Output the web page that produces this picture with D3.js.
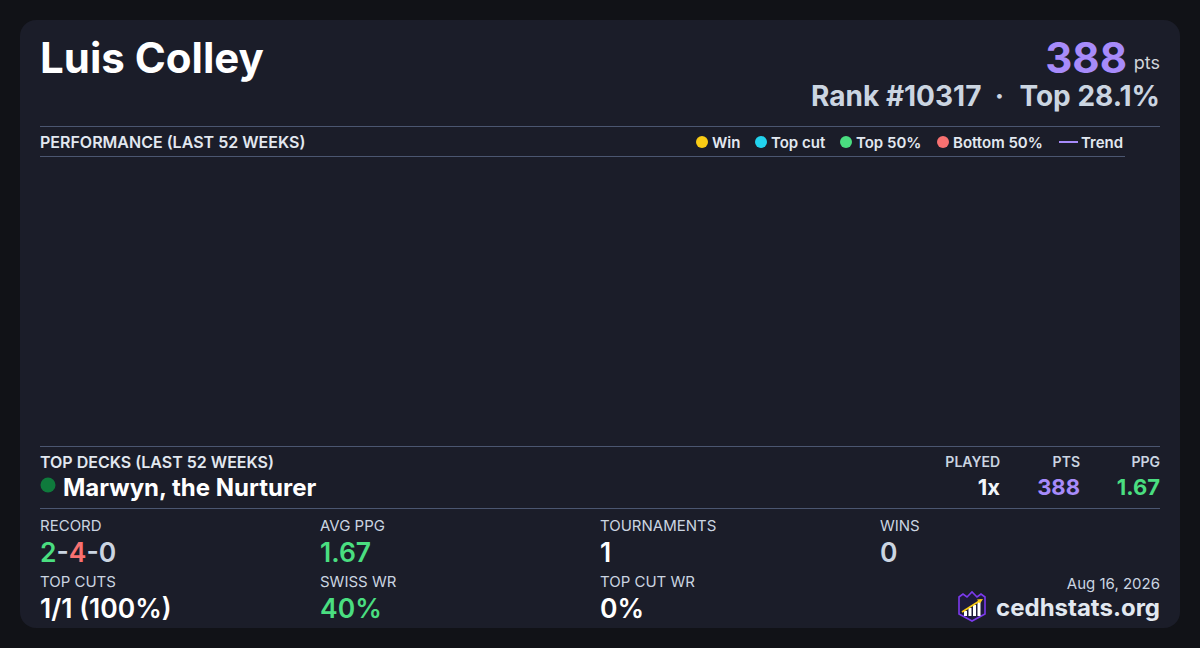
<!DOCTYPE html>
<html>
<head>
<meta charset="utf-8">
<script src="https://cdn.jsdelivr.net/npm/d3@7"></script>
<style>
  html, body { margin: 0; padding: 0; background: #111217; }
  svg { display: block; font-family: Inter, "Noto Sans", sans-serif; }
</style>
</head>
<body>
<div id="card"></div>
<script>
// Player card data
const playerName = 'Luis Colley'
const points = 388
const rankText = 'Rank #10317'
const topText = 'Top 28.1%'
const dateText = 'Aug 16, 2026'

// performance points (none in the last 52 weeks)
const perfWeeks = []
const perfValues = []
const perfResults = []

const legendLabels = ['Win', 'Top cut', 'Top 50%', 'Bottom 50%', 'Trend']
const legendColors = ['#facc15', '#22d3ee', '#4ade80', '#f87171', '#a78bfa']

const deckNames = ['Marwyn, the Nurturer']
const deckPlayed = ['1x']
const deckPts = [388]
const deckPpg = ['1.67']

const statLabels = ['RECORD', 'AVG PPG', 'TOURNAMENTS', 'WINS', 'TOP CUTS', 'SWISS WR', 'TOP CUT WR']
const statValues = ['2-4-0', '1.67', '1', '0', '1/1 (100%)', '40%', '0%']

const W = 1200, H = 648
const svg = d3.select('#card').append('svg')
    .attr('width', W)
    .attr('height', H)

svg.append('rect')
    .attr('x', 20).attr('y', 20)
    .attr('width', 1160).attr('height', 608)
    .attr('rx', 16)
    .attr('fill', '#1b1d29')

const ruleColor = '#4b5670'

// Header
svg.append('text')
    .attr('x', 40).attr('y', 73)
    .attr('font-size', 42).attr('font-weight', 700)
    .attr('fill', '#ffffff')
    .text(playerName)

svg.append('text')
    .attr('x', 1160).attr('y', 69)
    .attr('text-anchor', 'end')
    .attr('font-size', 18)
    .attr('fill', '#d1d5db')
    .text('pts')

svg.append('text')
    .attr('x', 1127).attr('y', 73)
    .attr('text-anchor', 'end')
    .attr('font-size', 42).attr('font-weight', 700)
    .attr('fill', '#a78bfa')
    .text(points)

// rank line: right-aligned pieces with a separating dot
const rankRow = svg.append('g')
    .attr('font-size', 28).attr('font-weight', 700)
    .attr('fill', '#cbd5e1')
const topNode = rankRow.append('text')
    .attr('x', 1160).attr('y', 106)
    .attr('text-anchor', 'end')
    .text(topText)
const topStart = 1160 - topNode.node().getComputedTextLength()
rankRow.append('text')
    .attr('x', topStart - 20).attr('y', 106)
    .attr('text-anchor', 'middle')
    .text('\u00b7')
rankRow.append('text')
    .attr('x', topStart - 38).attr('y', 106)
    .attr('text-anchor', 'end')
    .text(rankText)

function rule(y, x2) {
    svg.append('line')
        .attr('x1', 40).attr('x2', x2)
        .attr('y1', y).attr('y2', y)
        .attr('stroke', ruleColor)
        .attr('stroke-width', 1)
}

// Performance section
rule(126.5, 1160)
rule(156.5, 1125)

svg.append('text')
    .attr('x', 40).attr('y', 148)
    .attr('font-size', 16).attr('font-weight', 600)
    .attr('fill', '#e2e8f0')
    .text('PERFORMANCE (LAST 52 WEEKS)')

// Legend
const legendX = [702, 761, 846, 943, 1059]
const legend = svg.append('g')
legendLabels.forEach((label, i) => {
    const g = legend.append('g').attr('transform', `translate(${legendX[i]}, 142)`)
    if (label === 'Trend') {
        g.append('line')
            .attr('x1', 0).attr('x2', 19)
            .attr('stroke', legendColors[i]).attr('stroke-width', 2)
        g.append('text').attr('x', 22).attr('y', 5.5)
            .attr('font-size', 15).attr('font-weight', 600)
            .attr('fill', '#e2e8f0').text(label)
    } else {
        g.append('circle').attr('r', 6).attr('fill', legendColors[i])
        g.append('text').attr('x', 10).attr('y', 5.5)
            .attr('font-size', 15).attr('font-weight', 600)
            .attr('fill', '#e2e8f0').text(label)
    }
})

// Chart area (empty)
const x = d3.scaleLinear().domain([0, 52]).range([40, 1125])
const y = d3.scaleLinear().domain([0, 400]).range([436, 166])
const colorOf = d3.scaleOrdinal().domain(legendLabels.slice(0, 4)).range(legendColors.slice(0, 4))

const perf = perfWeeks.map((w, i) => ({ w: w, v: perfValues[i], r: perfResults[i] }))
svg.append('g').selectAll('circle')
    .data(perf)
    .enter()
    .append('circle')
    .attr('cx', d => x(d.w))
    .attr('cy', d => y(d.v))
    .attr('r', 5)
    .attr('fill', d => colorOf(d.r))

if (perf.length > 1) {
    svg.append('path')
        .datum(perf)
        .attr('fill', 'none')
        .attr('stroke', legendColors[4])
        .attr('stroke-width', 2)
        .attr('d', d3.line().x(d => x(d.w)).y(d => y(d.v)))
}

// Top decks
rule(446.5, 1160)
svg.append('text')
    .attr('x', 40).attr('y', 468)
    .attr('font-size', 16).attr('font-weight', 600)
    .attr('fill', '#e2e8f0')
    .text('TOP DECKS (LAST 52 WEEKS)')

const deckCols = [
    { label: 'PLAYED', x: 1000, vals: deckPlayed, color: '#f1f5f9' },
    { label: 'PTS', x: 1080, vals: deckPts, color: '#a78bfa' },
    { label: 'PPG', x: 1160, vals: deckPpg, color: '#4ade80' }
]
deckCols.forEach(c => {
    svg.append('text')
        .attr('x', c.x).attr('y', 467)
        .attr('text-anchor', 'end')
        .attr('font-size', 14).attr('font-weight', 600)
        .attr('fill', '#cbd5e1')
        .text(c.label)
})

deckNames.forEach((name, i) => {
    const cy = 495 + i * 30
    svg.append('circle')
        .attr('cx', 48).attr('cy', cy - 10).attr('r', 7.5)
        .attr('fill', '#0f7a3c')
    svg.append('text')
        .attr('x', 63).attr('y', cy + 1)
        .attr('font-size', 24).attr('font-weight', 700)
        .attr('fill', '#ffffff')
        .text(name)
    deckCols.forEach(c => {
        svg.append('text')
            .attr('x', c.x).attr('y', cy)
            .attr('text-anchor', 'end')
            .attr('font-size', 22).attr('font-weight', 700)
            .attr('fill', c.color)
            .text(c.vals[i])
    })
})

rule(508.5, 1160)

// Stats grid
const colX = [40, 320, 600, 880]
const rowY = [531, 587]
const valueColor = {
    'AVG PPG': '#4ade80',
    'SWISS WR': '#4ade80',
    'WINS': '#cbd5e1'
}
statLabels.forEach((label, i) => {
    const cx = colX[i % 4], ry = rowY[Math.floor(i / 4)]
    svg.append('text')
        .attr('x', cx).attr('y', ry)
        .attr('font-size', 15)
        .attr('fill', '#cbd5e1')
        .text(label)
    const t = svg.append('text')
        .attr('x', cx).attr('y', ry + 31)
        .attr('font-size', 26.5).attr('font-weight', 600)
        .attr('fill', valueColor[label] || '#ffffff')
    if (label === 'RECORD') {
        const parts = statValues[i].split('-')
        const partColors = ['#4ade80', '#f87171', '#cbd5e1']
        parts.forEach((p, j) => {
            if (j > 0) t.append('tspan').attr('fill', '#cbd5e1').text('-')
            t.append('tspan').attr('fill', partColors[j]).text(p)
        })
    } else {
        t.text(statValues[i])
    }
})

// Footer
svg.append('text')
    .attr('x', 1160).attr('y', 589)
    .attr('text-anchor', 'end')
    .attr('font-size', 15)
    .attr('fill', '#cbd5e1')
    .text(dateText)

svg.append('text')
    .attr('x', 1160).attr('y', 616)
    .attr('text-anchor', 'end')
    .attr('font-size', 24).attr('font-weight', 700)
    .attr('fill', '#e2e8f0')
    .text('cedhstats.org')

// logo
const logo = svg.append('g').attr('transform', 'translate(958, 592)')
logo.append('path')
    .attr('d', 'M1,5 L5,2 L9,5 L14,0 L19,5 L23,2 L27,5 L27,22 L14,29 L1,22 Z')
    .attr('fill', '#1e1b3a')
    .attr('stroke', '#7c3aed')
    .attr('stroke-width', 1.6)
const barH = [5, 8, 11, 14]
barH.forEach((h, i) => {
    logo.append('rect')
        .attr('x', 6 + i * 4.5).attr('y', 24 - h)
        .attr('width', 3).attr('height', h)
        .attr('fill', '#ffffff')
})
logo.append('line')
    .attr('x1', 4).attr('y1', 20).attr('x2', 23).attr('y2', 8)
    .attr('stroke', '#facc15').attr('stroke-width', 1.8)
logo.append('path')
    .attr('d', 'M25,7 L19,7.5 L22,11.5 Z')
    .attr('fill', '#facc15')
</script>
</body>
</html>
